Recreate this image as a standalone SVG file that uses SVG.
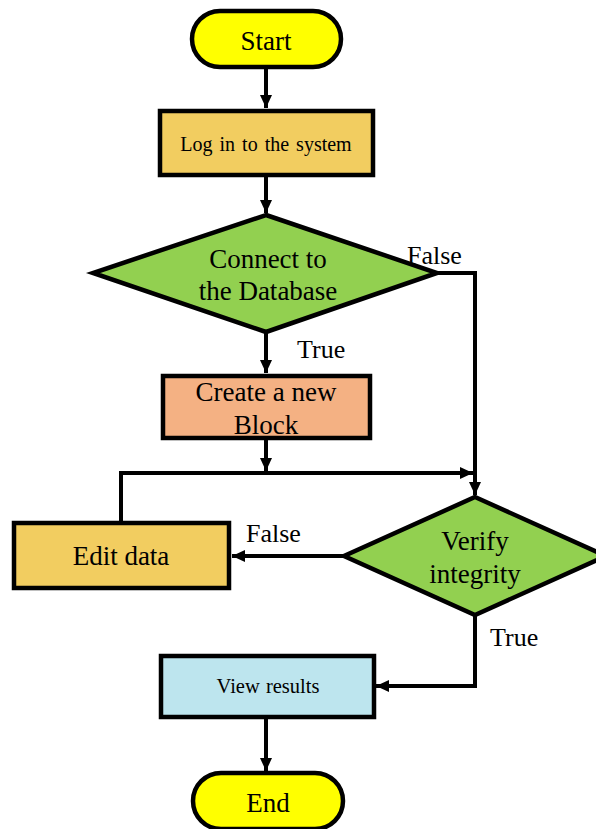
<svg xmlns="http://www.w3.org/2000/svg" width="596" height="829" viewBox="0 0 596 829">
<style>
.n{stroke:#000;stroke-width:4.5}
.t{font-family:"Liberation Serif","Times New Roman",serif;fill:#000;text-anchor:middle}
.c{fill:none;stroke:#000;stroke-width:4}
.l{font-family:"Liberation Serif","Times New Roman",serif;fill:#000;font-size:26px}
</style>
<defs>
<marker id="a" markerUnits="userSpaceOnUse" markerWidth="14" markerHeight="14" refX="13" refY="7" orient="auto">
<path d="M0,1 L13,7 L0,13 z" fill="#000"/>
</marker>
</defs>
<rect width="596" height="829" fill="#fff"/>
<g id="connectors">
<path class="c" d="M266,68 V108" marker-end="url(#a)"/>
<path class="c" d="M266,175 V213" marker-end="url(#a)"/>
<path class="c" d="M266,332 V373" marker-end="url(#a)"/>
<path class="c" d="M437,273 H475 V495" marker-end="url(#a)"/>
<path class="c" d="M266,438 V471" marker-end="url(#a)"/>
<path class="c" d="M121,522 V473 H473" marker-end="url(#a)"/>
<path class="c" d="M344,556 H232" marker-end="url(#a)"/>
<path class="c" d="M475,615 V686 H376" marker-end="url(#a)"/>
<path class="c" d="M266,717 V771" marker-end="url(#a)"/>
<text class="l" x="407" y="264">False</text>
<text class="l" x="297" y="358">True</text>
<text class="l" x="246" y="542">False</text>
<text class="l" x="490" y="646">True</text>
</g>
<g id="start">
<rect class="n" x="192" y="11" width="149" height="56" rx="28" fill="#FFFF00"/>
<text class="t" x="266" y="50" font-size="27">Start</text>
</g>
<g id="login">
<rect class="n" x="160" y="111" width="213" height="64" fill="#F2CD60"/>
<text class="t" x="266" y="151" font-size="20" word-spacing="2">Log in to the system</text>
</g>
<g id="connect">
<polygon class="n" points="266,215 437,273 266,332 93,273" fill="#92D050"/>
<text class="t" x="268" y="268" font-size="27">Connect to</text>
<text class="t" x="268" y="300" font-size="27">the Database</text>
</g>
<g id="create">
<rect class="n" x="163" y="376" width="207" height="62" fill="#F4B183"/>
<text class="t" x="266" y="401" font-size="27">Create a new</text>
<text class="t" x="266" y="434" font-size="27">Block</text>
</g>
<g id="edit">
<rect class="n" x="14" y="523" width="215" height="65" fill="#F2CD60"/>
<text class="t" x="121" y="565" font-size="27">Edit data</text>
</g>
<g id="verify">
<polygon class="n" points="475,497 606,556 475,615 344,556" fill="#92D050"/>
<text class="t" x="475" y="550" font-size="27">Verify</text>
<text class="t" x="475" y="583" font-size="27">integrity</text>
</g>
<g id="view">
<rect class="n" x="161" y="656" width="213" height="61" fill="#BDE5EE"/>
<text class="t" x="268" y="693" font-size="20.5" word-spacing="1">View results</text>
</g>
<g id="end">
<rect class="n" x="193" y="773" width="150" height="56" rx="28" fill="#FFFF00"/>
<text class="t" x="268" y="812" font-size="27">End</text>
</g>
</svg>
